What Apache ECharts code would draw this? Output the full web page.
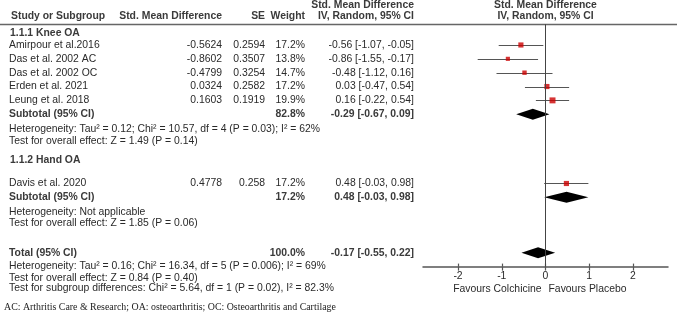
<!DOCTYPE html>
<html>
<head>
<meta charset="utf-8">
<script src="https://cdn.jsdelivr.net/npm/echarts@6/dist/echarts.min.js"></script>
<style>
  html, body { margin: 0; padding: 0; background: #fff; }
  #chart { width: 677px; height: 326px; }
</style>
</head>
<body>
<div id="chart"></div>
<script>
// individual studies
const studyNames = ['Amirpour et al.2016', 'Das et al. 2002 AC', 'Das et al. 2002 OC', 'Erden et al. 2021', 'Leung et al. 2018', 'Davis et al. 2020'];
const studySmd = [-0.5624, -0.8602, -0.4799, 0.0324, 0.1603, 0.4778];
const studySe = [0.2594, 0.3507, 0.3254, 0.2582, 0.1919, 0.258];
const studyWeight = [17.2, 13.8, 14.7, 17.2, 19.9, 17.2];
const studyLow = [-1.07, -1.55, -1.12, -0.47, -0.22, -0.03];
const studyHigh = [-0.05, -0.17, 0.16, 0.54, 0.54, 0.98];

// pooled (subtotal / total) estimates
const pooledNames = ['Subtotal (95% CI)', 'Subtotal (95% CI)', 'Total (95% CI)'];
const pooledEst = [-0.29, 0.48, -0.17];
const pooledLow = [-0.67, -0.03, -0.55];
const pooledHigh = [0.09, 0.98, 0.22];
const pooledWeight = [82.8, 17.2, 100.0];

const xTicks = [-2, -1, 0, 1, 2];

// layout: row slot of each table line (1 slot = one study row)
const studyRow = [0, 1, 2, 3, 4, 10];
const pooledRow = [5, 11, 15];
const Y_MIN = -1.5, Y_MAX = 16;

const FONT = '"Liberation Sans", Arial, sans-serif';
const FS = 10.4;
const TXT = '#2a2a2a';
const BOLD = '#3a3a3a';

const fmt2 = (v) => v.toFixed(2);
const ciText = (e, l, h) => fmt2(e) + ' [' + fmt2(l) + ', ' + fmt2(h) + ']';

const chart = echarts.init(document.getElementById('chart'));

chart.setOption({
  animation: false,
  grid: { left: 423, width: 245, top: 24.2, height: 242.4, outerBoundsMode: 'none' },
  xAxis: [
    {
      type: 'value', min: -2.8, max: 2.8,
      splitLine: { show: false },
      axisLine: { show: true, onZero: false, lineStyle: { color: '#555', width: 1.5 } },
      axisTick: { show: true, length: 4, customValues: xTicks, lineStyle: { color: '#555', width: 1.2 } },
      axisLabel: { customValues: xTicks, margin: 5, color: TXT, fontSize: FS, fontFamily: FONT },
    },
    {
      type: 'value', min: -2.8, max: 2.8, position: 'bottom',
      splitLine: { show: false },
      axisLine: { show: false, onZero: false },
      axisTick: { show: true, inside: true, length: 3, customValues: xTicks, lineStyle: { color: '#555', width: 1.2 } },
      axisLabel: { show: false },
    },
  ],
  yAxis: {
    type: 'value', min: Y_MIN, max: Y_MAX, inverse: true, show: false,
  },
  series: [
    {
      type: 'custom',
      name: 'ci',
      renderItem: (params, api) => {
        const r = api.value(2);
        const a = api.coord([api.value(0), r]);
        const b = api.coord([api.value(1), r]);
        return {
          type: 'line',
          shape: { x1: a[0], y1: Math.round(a[1]) + 0.5, x2: b[0], y2: Math.round(b[1]) + 0.5 },
          style: { stroke: '#555', lineWidth: 1 },
        };
      },
      data: studyLow.map((l, i) => [l, studyHigh[i], studyRow[i]]),
      markLine: {
        silent: true, symbol: 'none', label: { show: false },
        lineStyle: { color: '#444', width: 1, type: 'solid' },
        data: [{ xAxis: 0 }],
      },
      z: 2,
    },
    {
      type: 'scatter',
      symbol: 'rect',
      data: studySmd.map((v, i) => [v, studyRow[i], studyWeight[i]]),
      symbolSize: (d) => d[2] * 0.3,
      itemStyle: { color: '#cc0000' },
      z: 3,
    },
    {
      type: 'custom',
      name: 'diamond',
      renderItem: (params, api) => {
        const r = api.value(3);
        const lo = api.coord([api.value(0), r]);
        const c = api.coord([api.value(1), r]);
        const hi = api.coord([api.value(2), r]);
        const h = 5.5;
        return {
          type: 'polygon',
          shape: { points: [[lo[0], lo[1]], [c[0], c[1] - h], [hi[0], hi[1]], [c[0], c[1] + h]] },
          style: { fill: '#000' },
        };
      },
      data: pooledEst.map((e, i) => [pooledLow[i], e, pooledHigh[i], pooledRow[i]]),
      z: 3,
    },
  ],
});

// table text, placed on the same row slots as the marks
const rowY = (r) => chart.convertToPixel({ yAxisIndex: 0 }, r);
const zeroX = chart.convertToPixel({ xAxisIndex: 0 }, 0);

const COL = { name: 9, smd: 222, se: 265, weight: 305, ci: 414 };

const texts = [];
const addText = (text, x, r, align, bold) => {
  texts.push({
    type: 'text', x: x, y: rowY(r), silent: true,
    style: {
      text: text, fill: bold ? BOLD : TXT,
      font: (bold ? 'bold ' : '') + FS + 'px ' + FONT,
      textAlign: align, textVerticalAlign: 'middle',
    },
  });
};

// headers
addText('Std. Mean Difference', COL.ci, -2.85, 'right', true);
addText('Std. Mean Difference', zeroX, -2.85, 'center', true);
addText('Study or Subgroup', 11, -2.06, 'left', true);
addText('Std. Mean Difference', COL.smd, -2.06, 'right', true);
addText('SE', COL.se, -2.06, 'right', true);
addText('Weight', COL.weight, -2.06, 'right', true);
addText('IV, Random, 95% CI', COL.ci, -2.06, 'right', true);
addText('IV, Random, 95% CI', zeroX, -2.06, 'center', true);

// subgroup titles
addText('1.1.1 Knee OA', 10, -0.87, 'left', true);
addText('1.1.2 Hand OA', 10, 8.35, 'left', true);

// study rows
studyNames.forEach((n, i) => {
  const r = studyRow[i];
  addText(n, COL.name, r, 'left', false);
  addText(String(studySmd[i]), COL.smd, r, 'right', false);
  addText(String(studySe[i]), COL.se, r, 'right', false);
  addText(studyWeight[i].toFixed(1) + '%', COL.weight, r, 'right', false);
  addText(ciText(studySmd[i], studyLow[i], studyHigh[i]), COL.ci, r, 'right', false);
});

// pooled rows
pooledNames.forEach((n, i) => {
  const r = pooledRow[i];
  addText(n, COL.name, r, 'left', true);
  addText(pooledWeight[i].toFixed(1) + '%', COL.weight, r, 'right', true);
  addText(ciText(pooledEst[i], pooledLow[i], pooledHigh[i]), COL.ci, r, 'right', true);
});

// heterogeneity and tests
const notes = [
  ['Heterogeneity: Tau\u00b2 = 0.12; Chi\u00b2 = 10.57, df = 4 (P = 0.03); I\u00b2 = 62%', 6.07],
  ['Test for overall effect: Z = 1.49 (P = 0.14)', 6.93],
  ['Heterogeneity: Not applicable', 12.04],
  ['Test for overall effect: Z = 1.85 (P = 0.06)', 12.85],
  ['Heterogeneity: Tau\u00b2 = 0.16; Chi\u00b2 = 16.34, df = 5 (P = 0.006); I\u00b2 = 69%', 16.0],
  ['Test for overall effect: Z = 0.84 (P = 0.40)', 16.8],
  ['Test for subgroup differences: Chi\u00b2 = 5.64, df = 1 (P = 0.02), I\u00b2 = 82.3%', 17.57],
];
notes.forEach((n) => addText(n[0], COL.name, n[1], 'left', false));

// axis captions
addText('Favours Colchicine', zeroX - 4, 17.6, 'right', false);
addText('Favours Placebo', zeroX + 3, 17.6, 'left', false);

// footnote
texts.push({
  type: 'text', x: 4, y: rowY(18.97), silent: true,
  style: {
    text: 'AC: Arthritis Care & Research; OA: osteoarthritis; OC: Osteoarthritis and Cartilage',
    fill: '#222', font: '9.9px "Liberation Serif", "Times New Roman", serif',
    textAlign: 'left', textVerticalAlign: 'middle',
  },
});

// header rule
const ruleY = Math.round(rowY(Y_MIN)) + 0.5;
texts.push({
  type: 'line', silent: true,
  shape: { x1: 0, y1: ruleY, x2: 677, y2: ruleY },
  style: { stroke: '#666', lineWidth: 1.6 },
});

chart.setOption({ graphic: texts });
</script>
</body>
</html>
